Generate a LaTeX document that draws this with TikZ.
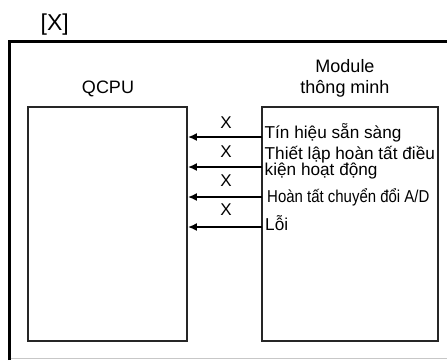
\documentclass[tikz,border=0pt]{standalone}
\usepackage{fontspec}
\setmainfont{Liberation Sans}
\usetikzlibrary{arrows.meta}
\begin{document}
\begin{tikzpicture}[x=1pt,y=-1pt,
  unitbox/.style={draw=black!85, line width=1.8pt, inner sep=0pt},
  sig/.style={line width=1.8pt, -{Latex[length=9pt,width=8pt]}},
  lbl/.style={inner sep=0pt, font=\fontsize{18}{20}\selectfont},
  sigtxt/.style={inner sep=0pt, anchor=base west, font=\fontsize{17.2}{19}\selectfont},
  xlbl/.style={inner sep=0pt, font=\fontsize{17}{19}\selectfont}]
\useasboundingbox (0,0) rectangle (447,360);
% outer frame (partly cut off)
\draw[line width=2.4pt] (9.5,360) -- (9.5,41.5) -- (447,41.5);
\draw[black!22, line width=1pt] (10.5,358) -- (447,358);
% title
\node[inner sep=0pt, anchor=base west, font=\fontsize{23}{26}\selectfont] (title) at (40.5,30) {[X]};
% boxes
\node[unitbox, minimum width=159pt, minimum height=234pt] (cpu) at (107.5,224) {};
\node[unitbox, minimum width=176pt, minimum height=234pt] (mod) at (350,224) {};
% headings
\node[lbl, anchor=base] (cpulbl) at (108,93) {QCPU};
\node[lbl, anchor=base] (modlbl1) at (345,72) {Module};
\node[lbl, anchor=base] (modlbl2) at (345,93) {thông minh};
% signal points
\coordinate (s1) at (262,137);
\coordinate (s2) at (262,167);
\coordinate (s3) at (262,197);
\coordinate (s4) at (262,227);
\draw[sig] (s1) -- (s1 -| cpu.east);
\draw[sig] (s2) -- (s2 -| cpu.east);
\draw[sig] (s3) -- (s3 -| cpu.east);
\draw[sig] (s4) -- (s4 -| cpu.east);
% X labels
\node[xlbl] (x1) at (226,123) {X};
\node[xlbl] (x2) at (226,152) {X};
\node[xlbl] (x3) at (226,181) {X};
\node[xlbl] (x4) at (226,210) {X};
% signal texts
\node[sigtxt] (t1) at (264.5,138) {Tín hiệu sẵn sàng};
\node[sigtxt] (t2a) at (264.5,159.5) {Thiết lập hoàn tất điều};
\node[sigtxt] (t2b) at (264.5,175) {kiện hoạt động};
\node[sigtxt] (t3) at (267,202) {\scalebox{0.87}[1]{Hoàn tất chuyển đổi A/D}};
\node[sigtxt] (t4) at (265,230) {Lỗi};
\end{tikzpicture}
\end{document}
